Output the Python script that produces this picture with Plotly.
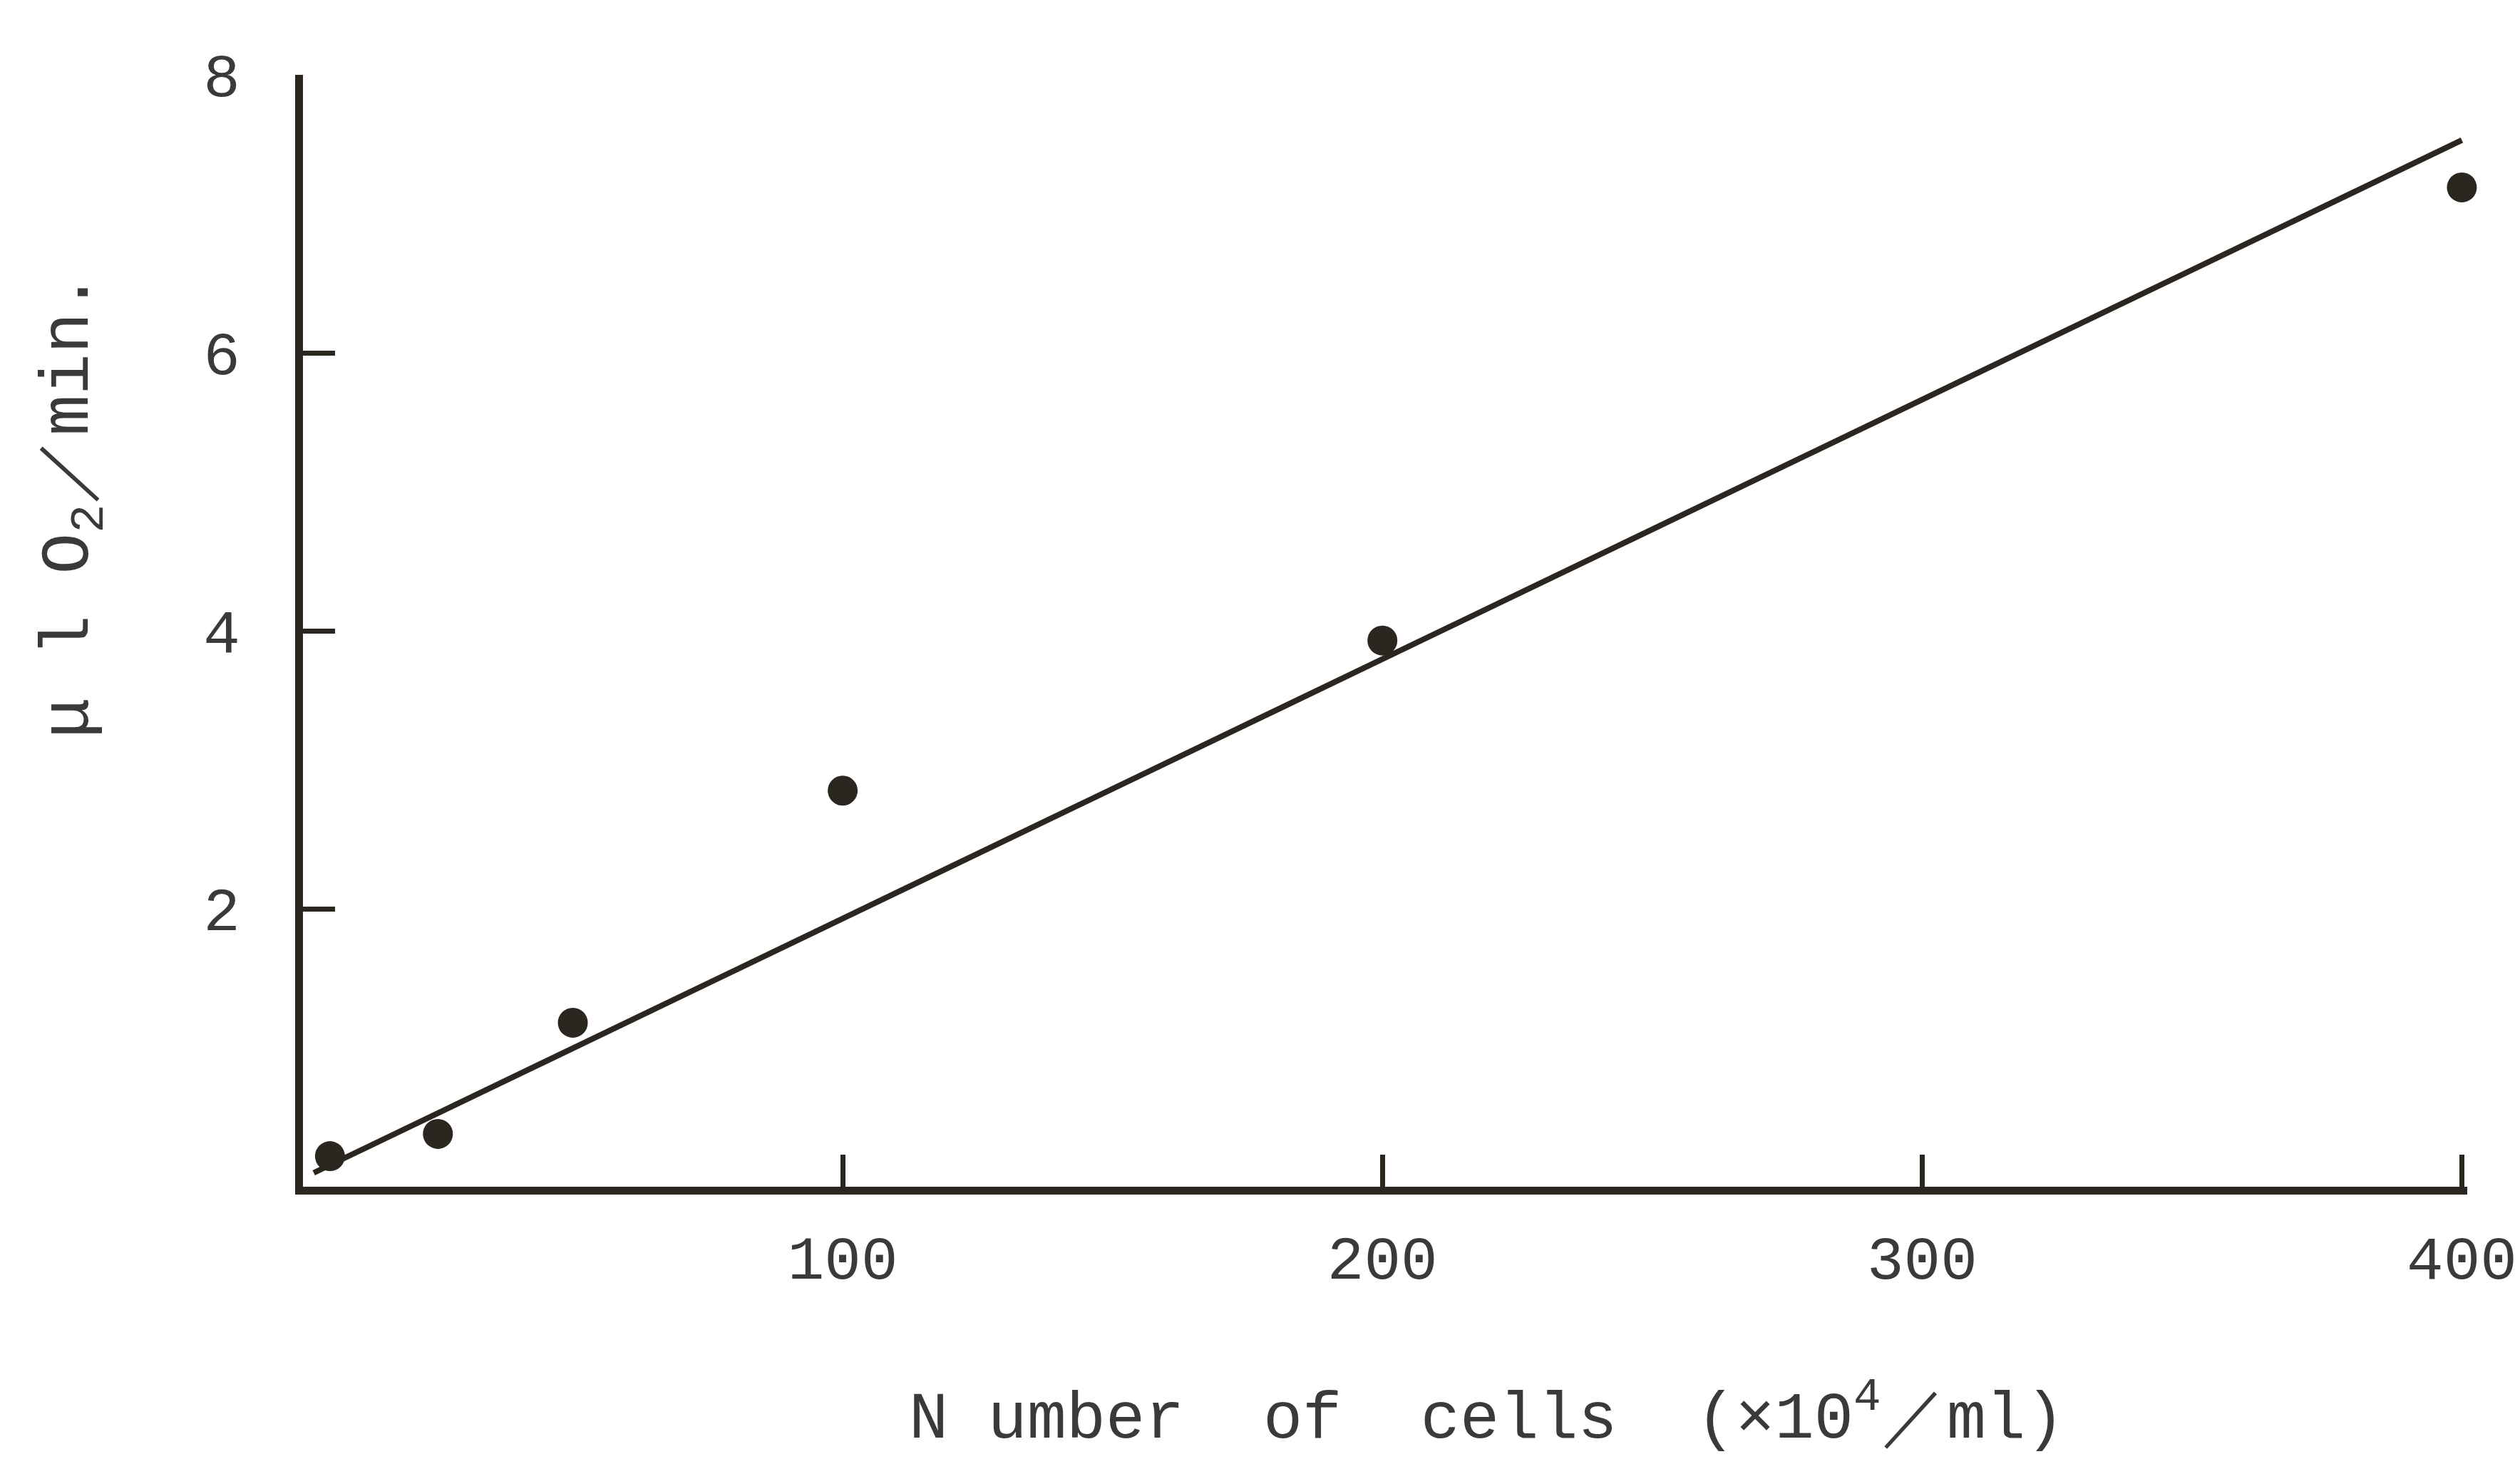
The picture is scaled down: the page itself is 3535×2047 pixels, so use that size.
import plotly.graph_objects as go

# Measured points
cells = [5, 25, 50, 100, 200, 400]
o2_rate = [0.22, 0.38, 1.18, 2.85, 3.93, 7.19]

# Fitted regression line end points
fit_x = [2, 400]
fit_y = [0.10, 7.53]

x_ticks = [100, 200, 300, 400]
y_ticks = [2, 4, 6, 8]

ink = "#2b2720"
txt = "#3a3a3a"
font_family = "Liberation Mono, DejaVu Sans Mono, monospace"

fig = go.Figure()
fig.add_trace(go.Scatter(x=fit_x, y=fit_y, mode="lines",
                         line=dict(color=ink, width=8), showlegend=False,
                         cliponaxis=False))
fig.add_trace(go.Scatter(x=cells, y=o2_rate, mode="markers",
                         marker=dict(color=ink, size=42), showlegend=False,
                         cliponaxis=False))

fig.update_layout(
    width=3535, height=2047,
    margin=dict(l=417, r=70, t=97, b=390),
    paper_bgcolor="white", plot_bgcolor="white",
    font=dict(family=font_family, color=txt, size=84),
    xaxis=dict(range=[0, 401], tickvals=x_ticks, ticktext=[str(v) for v in x_ticks],
               showgrid=False, zeroline=False, showline=True, linecolor=ink, linewidth=11,
               ticks="inside", ticklen=45, tickwidth=7, tickcolor=ink,
               ticklabelstandoff=15, tickfont=dict(size=86, color=txt)),
    yaxis=dict(range=[0, 8], tickvals=y_ticks, ticktext=[str(v) for v in y_ticks],
               showgrid=False, zeroline=False, showline=True, linecolor=ink, linewidth=11,
               ticks="inside", ticklen=45, tickwidth=7, tickcolor=ink,
               ticklabelstandoff=60, tickfont=dict(size=86, color=txt)),
    annotations=[
        dict(text="N umber  of  cells  (×10<sup>4</sup>／ml)", xref="paper", yref="paper",
             x=0.547, y=-0.205, showarrow=False, xanchor="center", yanchor="middle",
             font=dict(size=92, color=txt, family=font_family)),
        dict(text="μ l O<sub>2</sub>／min.", xref="paper", yref="paper",
             x=-0.106, y=0.613, showarrow=False, xanchor="center", yanchor="middle",
             textangle=-90, font=dict(size=96, color=txt, family=font_family)),
    ],
)

fig.write_html("out.html")
